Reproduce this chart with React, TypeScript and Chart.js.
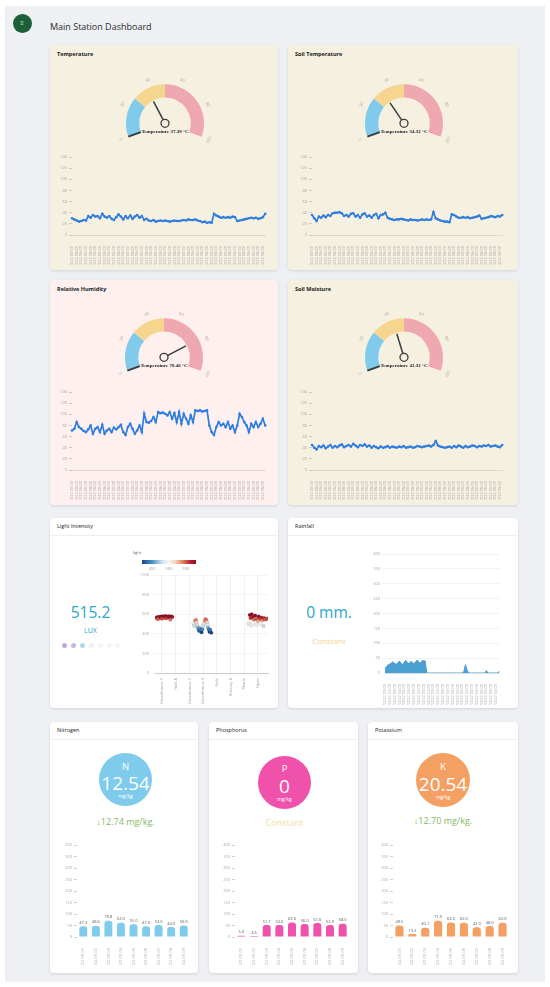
import React, { useEffect, useRef } from "react";
import { Chart, registerables } from "chart.js";

Chart.register(...registerables);
Chart.defaults.font.family = '"Open Sans", "Noto Sans", sans-serif';

// ---------------- DATA ----------------
const GAUGE_BANDS = [27, 23, 50];
const GAUGE_TICKS = [0, 20, 40, 60, 80, 100];
const TEMP_NOW = 37.39;
const SOIL_TEMP_NOW = 34.32;
const HUMIDITY_NOW = 78.46;
const SOIL_MOISTURE_NOW = 42.32;

const LINE_DAYS = ["01/09/2022", "02/09/2022", "03/09/2022", "04/09/2022", "05/09/2022", "06/09/2022", "07/09/2022", "08/09/2022", "09/09/2022", "10/09/2022", "11/09/2022", "12/09/2022", "13/09/2022", "14/09/2022"];
const LINE_HOURS = ["00:00", "04:00", "08:00", "12:00", "16:00", "20:00"];
const LINE_LABELS = LINE_DAYS.flatMap((d) => LINE_HOURS.map((h) => `${d} ${h}`));

const TEMP_SERIES = [
  30, 28, 26, 24, 25, 27, 26, 34, 31, 36, 33, 34,
  30, 38, 33, 31, 34, 29, 27, 32, 37, 33, 28, 34,
  30, 35, 29, 33, 36, 31, 34, 27, 29, 26, 25, 27,
  24, 25, 26, 25, 26, 25, 24, 25, 26, 25, 25, 26,
  27, 26, 28, 27, 27, 28, 26, 25, 23, 24, 22, 23,
  22, 38, 35, 33, 31, 32, 31, 32, 31, 33, 32, 25,
  26, 27, 28, 29, 30, 31, 30, 31, 29, 30, 32, 38,
];
const SOIL_TEMP_SERIES = [
  36, 30, 25, 33, 31, 35, 32, 36, 34, 39, 40, 40,
  41, 39, 34, 36, 33, 38, 39, 33, 36, 31, 37, 39,
  33, 35, 31, 36, 38, 30, 36, 37, 40, 31, 29, 28,
  27, 28, 28, 29, 28, 27, 26, 28, 27, 27, 26, 27,
  28, 27, 28, 27, 28, 41, 30, 28, 26, 25, 24, 24,
  23, 37, 36, 33, 31, 31, 32, 31, 32, 30, 31, 32,
  33, 35, 29, 30, 31, 32, 34, 33, 32, 34, 33, 36,
];
const HUMIDITY_SERIES = [
  71, 74, 86, 77, 74, 70, 68, 73, 80, 65, 74, 77,
  68, 81, 65, 71, 74, 68, 76, 73, 77, 81, 68, 63,
  77, 83, 74, 65, 71, 80, 68,
  101, 86, 85, 88, 95, 86, 104, 102, 103, 101, 98, 104,
  92, 102, 86, 104, 83, 101, 92, 83, 98, 86,
  107, 106, 107, 105, 106, 107,
  80, 68, 63, 77, 86, 80, 83, 77, 86, 74, 80, 68, 80,
  101, 95, 86, 80, 68, 83, 77, 86, 77, 83, 92, 80,
];
const SOIL_MOISTURE_SERIES = [
  45, 40, 37, 43, 41, 44, 39, 42, 45, 40, 43, 41,
  44, 46, 41, 43, 45, 42, 47, 44, 41, 45, 43, 46,
  42, 44, 40, 43, 41, 39, 42, 40, 41, 43, 40, 42,
  41, 40, 42, 41, 43, 40, 41, 42, 40, 41, 43, 42,
  41, 42, 43, 44, 42, 45, 52, 44, 42, 41, 40, 41,
  42, 40, 43, 41, 44, 42, 40, 43, 41, 42, 44, 43,
  41, 43, 42, 44, 43, 45, 42, 43, 44, 42, 41, 45,
];

const LIGHT_NOW = "515.2";
const LIGHT_CATEGORIES = ["Greenhouse 1", "Field A", "Greenhouse 2", "Greenhouse 3", "Field", "Nursery B", "Shade", "Open"];
const LIGHT_X = [
  0.6, 0.65, 0.7, 0.75, 0.8, 0.85, 0.9, 0.95, 1.0, 1.05, 1.1, 1.15, 1.2, 1.25, 1.3, 1.35, 1.4, 1.45, 1.5, 1.55, 1.6, 1.65, 1.7, 1.75, 0.7, 1.0, 1.3, 1.6,
  3.3, 3.35, 3.42, 3.48, 3.52, 3.56, 3.6, 3.65, 3.7, 3.76, 3.82, 3.88, 3.94, 4.0, 4.06, 4.12, 4.18, 4.24, 4.28, 4.32, 4.36, 4.4, 4.46, 4.52, 4.6,
  7.3, 7.4, 7.45, 7.55, 7.6, 7.7, 7.8, 7.9, 8.0, 8.05, 8.15, 8.25, 8.35, 8.45, 8.55, 8.65, 7.5, 7.85, 8.2, 8.4,
];
const LIGHT_Y = [
  565, 560, 570, 558, 572, 566, 575, 562, 570, 578, 566, 574, 568, 580, 571, 576, 567, 574, 579, 570, 575, 569, 577, 572, 548, 553, 558, 545,
  505, 480, 535, 540, 515, 490, 470, 450, 430, 455, 440, 415, 445, 480, 505, 530, 548, 540, 515, 490, 465, 445, 420, 440, 410,
  505, 592, 560, 598, 570, 545, 585, 550, 530, 575, 552, 565, 540, 560, 545, 555, 490, 495, 500, 480,
];
const LIGHT_MIN = 420;
const LIGHT_MAX = 580;
const COLORBAR_TICKS = [450, 500, 550];

const RAIN_NOW = "0 mm.";
const RAIN_DAYS = ["15/08/2022", "16/08/2022", "17/08/2022", "18/08/2022", "19/08/2022", "20/08/2022", "21/08/2022", "22/08/2022", "23/08/2022", "24/08/2022", "25/08/2022", "26/08/2022"];
const RAIN_HOURS = ["00:00", "04:00", "08:00", "12:00", "16:00", "20:00"];
const RAIN_LABELS = RAIN_DAYS.flatMap((d) => RAIN_HOURS.map((h) => `${d} ${h}`));
const RAIN_SERIES = [
  15, 22, 28, 30, 34, 38, 32, 29, 35, 40, 33, 28, 37, 42, 35, 30, 39, 36, 31, 38, 43, 37, 33, 41, 42, 40,
  0, 0, 0, 0, 0, 0, 0, 0, 0, 0, 0, 0, 0, 0, 0, 0, 0, 0, 0, 0, 0, 0, 0,
  4, 28, 10, 0,
  0, 0, 0, 0, 0, 0, 0, 0, 0, 0,
  8,
  0, 0, 0, 0, 0, 0, 0,
  6,
];

const NPK_DATES = ["2022-09-01", "2022-09-02", "2022-09-03", "2022-09-04", "2022-09-05", "2022-09-06", "2022-09-07", "2022-09-08", "2022-09-09"];
const N_VALUES = [47.2, 48.6, 70.8, 62.0, 55.0, 47.0, 52.0, 44.0, 50.0];
const P_VALUES = [5.0, 4.6, 51.7, 52.6, 63.0, 56.0, 61.0, 52.0, 58.0];
const K_VALUES = [49.5, 13.2, 40.1, 71.0, 63.0, 62.0, 42.0, 48.0, 62.0];
const N_NOW = "12.54";
const P_NOW = "0";
const K_NOW = "20.54";
const N_CHANGE = "12.74 mg/kg.";
const K_CHANGE = "12.70 mg/kg.";

// ---------------- STYLE ----------------
const BAND_COLORS = ["#80cbeb", "#f6d58e", "#efa8b0"];
const BEIGE = "#f6f0e1";
const PINK = "#fdf0ef";
const LINE_BLUE = "#2f7ddf";
const RDBU = ["#174a8b", "#2e6db3", "#4e97c8", "#97c7df", "#dbe9f2", "#f7f5f3", "#fbd7c4", "#f2a27e", "#d5604e", "#b3202f", "#8e0c22"];
const TICK_FONT = { size: 4 };
const TICK_COLOR = "#a8a8a8";

function hexToRgb(h: string) {
  const n = parseInt(h.slice(1), 16);
  return [(n >> 16) & 255, (n >> 8) & 255, n & 255];
}
function rdbu(v: number) {
  const t = Math.max(0, Math.min(1, (v - LIGHT_MIN) / (LIGHT_MAX - LIGHT_MIN)));
  const p = t * (RDBU.length - 1);
  const i = Math.min(RDBU.length - 2, Math.floor(p));
  const f = p - i;
  const a = hexToRgb(RDBU[i]);
  const b = hexToRgb(RDBU[i + 1]);
  const c = a.map((x, k) => Math.round(x + (b[k] - x) * f));
  return `rgb(${c[0]},${c[1]},${c[2]})`;
}
const plainTick = (v: any) => String(v);

// ---------------- CONFIGS ----------------
function gaugeConfig(value: number, bg: string): any {
  const needle = {
    id: "needle",
    afterDatasetsDraw(chart: any) {
      const arc: any = chart.getDatasetMeta(0).data[0];
      if (!arc) return;
      const cx = arc.x, cy = arc.y, ir = arc.innerRadius, or = arc.outerRadius;
      const ctx = chart.ctx;
      const ang = (v: number) => ((-200 + v * 2.2) * Math.PI) / 180;
      ctx.save();
      const a0 = ang(0);
      ctx.strokeStyle = "#3b3b3b";
      ctx.lineWidth = 2;
      ctx.beginPath();
      ctx.moveTo(cx + ir * Math.cos(a0), cy + ir * Math.sin(a0));
      ctx.lineTo(cx + or * Math.cos(a0), cy + or * Math.sin(a0));
      ctx.stroke();
      ctx.fillStyle = "#aaa597";
      ctx.font = '4px "Open Sans"';
      ctx.textAlign = "center";
      ctx.textBaseline = "middle";
      GAUGE_TICKS.forEach((t) => {
        const a = ang(t);
        ctx.save();
        ctx.translate(cx + (or + 7.5) * Math.cos(a), cy + (or + 7.5) * Math.sin(a));
        ctx.rotate(a + Math.PI / 2);
        ctx.fillText(String(t), 0, 0);
        ctx.restore();
      });
      const a = ang(value);
      ctx.strokeStyle = "#3b3b3b";
      ctx.lineWidth = 1.5;
      ctx.beginPath();
      ctx.moveTo(cx, cy);
      ctx.lineTo(cx + (ir - 1) * Math.cos(a), cy + (ir - 1) * Math.sin(a));
      ctx.stroke();
      ctx.beginPath();
      ctx.arc(cx, cy, 4, 0, Math.PI * 2);
      ctx.fillStyle = bg;
      ctx.fill();
      ctx.lineWidth = 1.3;
      ctx.stroke();
      ctx.fillStyle = "#1e1e1e";
      ctx.font = 'bold 5px "Liberation Serif"';
      ctx.fillText(`Temperature ${value.toFixed(2)} °C`, cx, cy + 8.5);
      ctx.restore();
    },
  };
  return {
    type: "doughnut",
    data: {
      labels: ["Low", "Normal", "High"],
      datasets: [{ data: GAUGE_BANDS, backgroundColor: BAND_COLORS, borderWidth: 0 }],
    },
    options: {
      responsive: false,
      animation: false,
      circumference: 220,
      rotation: -110,
      cutout: "66%",
      layout: { padding: { left: 26, right: 26, top: 12, bottom: 13 } },
      plugins: { legend: { display: false }, tooltip: { enabled: false } },
    },
    plugins: [needle],
  };
}

function lineConfig(series: number[]): any {
  return {
    type: "line",
    data: {
      labels: LINE_LABELS,
      datasets: [
        {
          data: series,
          borderColor: LINE_BLUE,
          backgroundColor: LINE_BLUE,
          borderWidth: 1.7,
          pointRadius: 1.3,
          pointBorderWidth: 0,
          pointBackgroundColor: LINE_BLUE,
          tension: 0,
        },
      ],
    },
    options: {
      responsive: false,
      animation: false,
      layout: { padding: { top: 7, right: 5, left: 0, bottom: 0 } },
      plugins: { legend: { display: false }, tooltip: { enabled: false } },
      scales: {
        x: {
          grid: { display: false },
          border: { display: true, color: "#dcd8cc" },
          ticks: {
            autoSkip: false,
            minRotation: 90,
            maxRotation: 90,
            font: TICK_FONT,
            color: TICK_COLOR,
            padding: 3,
            callback: (_v: any, i: number) => (i % 2 === 0 ? LINE_LABELS[i] : ""),
          },
          afterFit: (s: any) => { s.height = 30; },
        },
        y: {
          min: 0,
          max: 140,
          ticks: { stepSize: 20, font: TICK_FONT, color: TICK_COLOR, padding: 2, callback: plainTick },
          grid: { drawOnChartArea: false, tickLength: 3, color: "#cfcabd" },
          border: { display: false },
          afterFit: (s: any) => { s.width = 17; },
        },
      },
    },
  };
}

function barConfig(values: number[], color: string): any {
  const labels = {
    id: "barValues",
    afterDatasetsDraw(chart: any) {
      const ctx = chart.ctx;
      const meta = chart.getDatasetMeta(0);
      ctx.save();
      ctx.font = '4px "Open Sans"';
      ctx.fillStyle = "#555";
      ctx.textAlign = "center";
      ctx.textBaseline = "bottom";
      meta.data.forEach((el: any, i: number) => {
        ctx.fillText(values[i].toFixed(1), el.x, el.y - 1.5);
      });
      ctx.restore();
    },
  };
  return {
    type: "bar",
    data: {
      labels: NPK_DATES,
      datasets: [
        {
          data: values,
          backgroundColor: color,
          borderRadius: { topLeft: 3, topRight: 3, bottomLeft: 0, bottomRight: 0 },
          borderSkipped: false,
          barPercentage: 0.63,
          categoryPercentage: 1,
        },
      ],
    },
    options: {
      responsive: false,
      animation: false,
      layout: { padding: { top: 7, right: 3, left: 0, bottom: 0 } },
      plugins: { legend: { display: false }, tooltip: { enabled: false } },
      scales: {
        x: {
          grid: { display: false },
          border: { display: false },
          ticks: { autoSkip: false, minRotation: 90, maxRotation: 90, font: TICK_FONT, color: TICK_COLOR, padding: 3 },
          afterFit: (s: any) => { s.height = 28; },
        },
        y: {
          min: 0,
          max: 400,
          ticks: { stepSize: 50, font: TICK_FONT, color: TICK_COLOR, padding: 2, callback: plainTick },
          grid: { drawOnChartArea: false, tickLength: 3, color: "#d0d0d0" },
          border: { display: false },
          afterFit: (s: any) => { s.width = 22; },
        },
      },
    },
    plugins: [labels],
  };
}

function rainConfig(): any {
  return {
    type: "line",
    data: {
      labels: RAIN_LABELS,
      datasets: [
        {
          data: RAIN_SERIES,
          borderColor: "#4a9fd3",
          backgroundColor: "#4a9fd3",
          borderWidth: 1,
          pointRadius: 0,
          fill: "origin",
          tension: 0,
        },
      ],
    },
    options: {
      responsive: false,
      animation: false,
      layout: { padding: { top: 7, right: 4, left: 0, bottom: 0 } },
      plugins: { legend: { display: false }, tooltip: { enabled: false } },
      scales: {
        x: {
          grid: { display: false },
          border: { display: true, color: "#dddddd" },
          ticks: {
            autoSkip: false,
            minRotation: 90,
            maxRotation: 90,
            font: TICK_FONT,
            color: TICK_COLOR,
            padding: 3,
            callback: (_v: any, i: number) => (i % 3 === 0 ? RAIN_LABELS[i] : ""),
          },
          afterFit: (s: any) => { s.height = 32; },
        },
        y: {
          min: 0,
          max: 400,
          ticks: { stepSize: 50, font: TICK_FONT, color: TICK_COLOR, padding: 2, callback: plainTick },
          grid: { color: "rgba(0,0,0,0.05)", tickLength: 3 },
          border: { display: false },
          afterFit: (s: any) => { s.width = 22; },
        },
      },
    },
  };
}

function lightConfig(): any {
  const colorbar = {
    id: "colorbar",
    afterDraw(chart: any) {
      const ctx = chart.ctx;
      const x0 = 12, x1 = 66, y0 = 15, h = 4;
      const g = ctx.createLinearGradient(x0, 0, x1, 0);
      RDBU.forEach((c, i) => g.addColorStop(i / (RDBU.length - 1), c));
      ctx.save();
      ctx.fillStyle = g;
      ctx.fillRect(x0, y0, x1 - x0, h);
      ctx.fillStyle = "#666";
      ctx.font = '4px "Open Sans"';
      ctx.textAlign = "left";
      ctx.textBaseline = "middle";
      ctx.fillText("light", 3, 8);
      ctx.textAlign = "center";
      ctx.fillStyle = "#999";
      COLORBAR_TICKS.forEach((t) => {
        const fx = x0 + ((t - LIGHT_MIN) / (LIGHT_MAX - LIGHT_MIN)) * (x1 - x0);
        ctx.fillText(String(t), fx, y0 + h + 5);
      });
      ctx.restore();
    },
  };
  const pts = LIGHT_X.map((x, i) => ({ x, y: LIGHT_Y[i] }));
  return {
    type: "scatter",
    data: {
      datasets: [
        {
          data: pts,
          pointRadius: 1.8,
          pointBackgroundColor: LIGHT_Y.map((v) => rdbu(v)),
          pointBorderColor: "rgba(60,20,20,0.35)",
          pointBorderWidth: 0.4,
        },
      ],
    },
    options: {
      responsive: false,
      animation: false,
      layout: { padding: { top: 30, right: 5, left: 0, bottom: 0 } },
      plugins: { legend: { display: false }, tooltip: { enabled: false } },
      scales: {
        x: {
          type: "linear",
          min: 0.49,
          max: 8.73,
          afterBuildTicks: (s: any) => { s.ticks = LIGHT_CATEGORIES.map((_c, i) => ({ value: i + 1 })); },
          grid: { color: "rgba(0,0,0,0.05)", tickLength: 3 },
          border: { display: true, color: "#cccccc" },
          ticks: {
            autoSkip: false,
            minRotation: 90,
            maxRotation: 90,
            font: { size: 4 },
            color: "#a0a0a0",
            padding: 2,
            callback: (v: any) => LIGHT_CATEGORIES[Math.round(v) - 1] ?? "",
          },
          afterFit: (s: any) => { s.height = 32; },
        },
        y: {
          min: 0,
          max: 1000,
          ticks: { stepSize: 200, font: TICK_FONT, color: TICK_COLOR, padding: 3, callback: plainTick },
          grid: { color: "rgba(0,0,0,0.04)", tickLength: 3 },
          border: { display: false },
          afterFit: (s: any) => { s.width = 25; },
        },
      },
    },
    plugins: [colorbar],
  };
}

// ---------------- COMPONENTS ----------------
function ChartCanvas({ x, y, w, h, make }: { x: number; y: number; w: number; h: number; make: () => any }) {
  const ref = useRef<HTMLCanvasElement>(null);
  useEffect(() => {
    const chart = new Chart(ref.current as HTMLCanvasElement, make());
    return () => chart.destroy();
  }, []);
  return (
    <canvas
      ref={ref}
      width={w}
      height={h}
      style={{ position: "absolute", left: x, top: y, width: w, height: h }}
    />
  );
}

function Txt({ x, y, size, color = "#333", weight = 400, align = "left", family, children }: any) {
  return (
    <div
      style={{
        position: "absolute",
        left: x,
        top: y,
        transform: `translate(${align === "center" ? "-50%" : "0"}, -50%)`,
        fontSize: size,
        lineHeight: 1,
        color,
        fontWeight: weight,
        whiteSpace: "nowrap",
        fontFamily: family,
      }}
    >
      {children}
    </div>
  );
}

function Card({ x, y, w, h, bg = "#fff", title, bold = false, sep = false }: any) {
  return (
    <div
      style={{
        position: "absolute",
        left: x,
        top: y,
        width: w,
        height: h,
        background: bg,
        borderRadius: 4,
        boxShadow: "0 1px 3px rgba(0,0,0,0.12)",
      }}
    >
      <Txt x={7} y={bold ? 10 : 9} size={5.5} weight={bold ? 700 : 400} color="#222">
        {title}
      </Txt>
      {sep && <div style={{ position: "absolute", left: 0, right: 0, top: 17, height: 1, background: "#efefef" }} />}
    </div>
  );
}

function Circle({ cx, cy, r, color, letter, value }: any) {
  return (
    <div
      style={{
        position: "absolute",
        left: cx - r,
        top: cy - r,
        width: 2 * r,
        height: 2 * r,
        borderRadius: "50%",
        background: color,
        color: "#fff",
      }}
    >
      <Txt x={r} y={r - 13} size={9.5} align="center" color="#fff">{letter}</Txt>
      <Txt x={r} y={r + 3.5} size={19} align="center" color="#fff">{value}</Txt>
      <Txt x={r} y={r + 16.5} size={5} align="center" color="#fff">mg/kg</Txt>
    </div>
  );
}

const DOT_COLORS = ["#c9a3db", "#cbb8e2", "#acdbe8", "#f1f1f1", "#f3f3f3", "#f3f3f3", "#f4f4f4"];
const DOT_X = [64, 73, 82, 91, 100, 109, 117];

export default function App() {
  return (
    <div
      style={{
        position: "absolute",
        left: 0,
        top: 0,
        width: 550,
        height: 987,
        background: "#ffffff",
        overflow: "hidden",
        fontFamily: '"Open Sans", "Noto Sans", sans-serif',
      }}
    >
      <div style={{ position: "absolute", left: 5, top: 6, width: 540, height: 976, background: "#eef0f4" }} />
      <div
        style={{
          position: "absolute",
          left: 12.5,
          top: 13.5,
          width: 19,
          height: 19,
          borderRadius: "50%",
          background: "#1d5f36",
        }}
      >
        <Txt x={9.5} y={9.5} size={6} align="center" color="#cfe3d4">≡</Txt>
      </div>
      <Txt x={50} y={25.5} size={9} color="#2b2b2b" weight={500}>Main Station Dashboard</Txt>

      {/* Top cards */}
      <Card x={50} y={45} w={228} h={225} bg={BEIGE} title="Temperature" bold />
      <Card x={288} y={45} w={230} h={225} bg={BEIGE} title="Soil Temperature" bold />
      <Card x={50} y={280} w={228} h={225} bg={PINK} title="Relative Humidity" bold />
      <Card x={288} y={280} w={230} h={225} bg={BEIGE} title="Soil Moisture" bold />

      <ChartCanvas x={100} y={72} w={130} h={78} make={() => gaugeConfig(TEMP_NOW, BEIGE)} />
      <ChartCanvas x={339} y={72} w={130} h={78} make={() => gaugeConfig(SOIL_TEMP_NOW, BEIGE)} />
      <ChartCanvas x={99} y={306} w={130} h={78} make={() => gaugeConfig(HUMIDITY_NOW, PINK)} />
      <ChartCanvas x={339} y={306} w={130} h={78} make={() => gaugeConfig(SOIL_MOISTURE_NOW, BEIGE)} />

      <ChartCanvas x={55} y={150} w={218} h={115} make={() => lineConfig(TEMP_SERIES)} />
      <ChartCanvas x={295} y={150} w={215} h={115} make={() => lineConfig(SOIL_TEMP_SERIES)} />
      <ChartCanvas x={55} y={385} w={218} h={115} make={() => lineConfig(HUMIDITY_SERIES)} />
      <ChartCanvas x={295} y={385} w={215} h={115} make={() => lineConfig(SOIL_MOISTURE_SERIES)} />

      {/* Middle cards */}
      <Card x={50} y={518} w={228} h={190} title="Light Intensity" sep />
      <Card x={288} y={518} w={230} h={190} title="Rainfall" sep />

      <Txt x={90.5} y={612.5} size={15.5} align="center" color="#2aa5cd">{LIGHT_NOW}</Txt>
      <Txt x={90.5} y={630} size={7} align="center" color="#2aa5cd">LUX</Txt>
      {DOT_X.map((dx, i) => (
        <div
          key={i}
          style={{
            position: "absolute",
            left: dx - 2.5,
            top: 642.5,
            width: 5,
            height: 5,
            borderRadius: "50%",
            background: DOT_COLORS[i],
          }}
        />
      ))}
      <ChartCanvas x={130} y={545} w={143} h={160} make={lightConfig} />

      <Txt x={329} y={613} size={15.5} align="center" color="#2aa5cd">{RAIN_NOW}</Txt>
      <Txt x={329} y={641} size={8} align="center" color="#f0d795">Constant</Txt>
      <ChartCanvas x={363} y={547} w={144} h={158} make={rainConfig} />

      {/* Bottom cards */}
      <Card x={50} y={722} w={148} h={251} title="Nitrogen" sep />
      <Card x={209} y={722} w={149} h={251} title="Phosphorus" sep />
      <Card x={368} y={722} w={150} h={251} title="Potassium" sep />

      <Circle cx={125.5} cy={779.5} r={26.5} color="#7ecbec" letter="N" value={N_NOW} />
      <Circle cx={284.5} cy={782} r={26.5} color="#f052ab" letter="P" value={P_NOW} />
      <Circle cx={443} cy={780} r={27} color="#f3a062" letter="K" value={K_NOW} />

      <Txt x={125.5} y={821} size={9} align="center" color="#86b85f">↓{N_CHANGE}</Txt>
      <Txt x={284.5} y={822} size={9} align="center" color="#f2dc9f">Constant</Txt>
      <Txt x={443} y={820} size={9} align="center" color="#86b85f">↓{K_CHANGE}</Txt>

      <ChartCanvas x={55} y={838} w={138} h={127} make={() => barConfig(N_VALUES, "#7ecbec")} />
      <ChartCanvas x={213} y={838} w={139} h={127} make={() => barConfig(P_VALUES, "#f052ab")} />
      <ChartCanvas x={371} y={838} w={141} h={127} make={() => barConfig(K_VALUES, "#f3a062")} />
    </div>
  );
}
